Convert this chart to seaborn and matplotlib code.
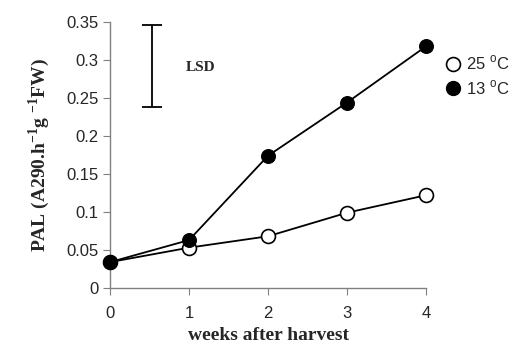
import matplotlib
matplotlib.use("Agg")
import matplotlib.pyplot as plt
from matplotlib.lines import Line2D
import seaborn as sns
import pandas as pd

weeks = [0, 1, 2, 3, 4]
pal_25 = [0.034, 0.053, 0.068, 0.099, 0.122]
pal_13 = [0.034, 0.063, 0.174, 0.244, 0.318]
lsd_x = 0.53
lsd_low = 0.238
lsd_high = 0.346
yticks = [0, 0.05, 0.1, 0.15, 0.2, 0.25, 0.3, 0.35]
ytick_labels = ["0", "0.05", "0.1", "0.15", "0.2", "0.25", "0.3", "0.35"]
series_labels = ["25 $^{\\mathrm{o}}$C", "13 $^{\\mathrm{o}}$C"]

sns.set_style("ticks")
plt.rcParams['font.family'] = ['Liberation Sans', 'DejaVu Sans']
plt.rcParams['mathtext.fontset'] = 'custom'
plt.rcParams['mathtext.rm'] = 'Liberation Sans'
plt.rcParams['mathtext.bf'] = 'Liberation Serif:bold'

fig = plt.figure(figsize=(5.12, 3.44), dpi=100)
ax = fig.add_axes([0.215, 0.163, 0.617, 0.773])

df = pd.DataFrame({"week": weeks * 2,
                   "pal": pal_25 + pal_13,
                   "temp": ["25"] * 5 + ["13"] * 5})

sns.lineplot(data=df[df.temp == "25"], x="week", y="pal", ax=ax, color="black",
             lw=1.3, marker="o", markersize=10, markerfacecolor="white",
             markeredgecolor="black", markeredgewidth=1.2, zorder=3)
sns.lineplot(data=df[df.temp == "13"], x="week", y="pal", ax=ax, color="black",
             lw=1.3, marker="o", markersize=10, markerfacecolor="black",
             markeredgecolor="black", zorder=4)

ax.errorbar([lsd_x], [(lsd_low + lsd_high) / 2], yerr=[(lsd_high - lsd_low) / 2],
            color="black", capsize=7, lw=1.3, capthick=1.3)
ax.text(1.14, 0.29, "LSD", fontsize=11, fontweight="bold",
        family=["Liberation Serif"], ha="center", va="center")

ax.set_xlim(0, 4)
ax.set_ylim(0, 0.35)
ax.set_xticks(weeks)
ax.set_yticks(yticks)
ax.set_yticklabels(ytick_labels)
ax.tick_params(labelsize=12, color="#808080", length=5)
ax.tick_params(axis="x", pad=8)
for s in ["top", "right"]:
    ax.spines[s].set_visible(False)
for s in ["left", "bottom"]:
    ax.spines[s].set_color("#808080")
    ax.spines[s].set_linewidth(1.0)
for line in ax.lines:
    line.set_clip_on(False)

ax.set_xlabel("weeks after harvest", fontsize=14, fontweight="bold",
              family=["Liberation Serif"], labelpad=4)
ax.set_ylabel("PAL (A290.h$^{\\mathbf{-1}}$g $^{\\mathbf{-1}}$FW)", fontsize=14,
              fontweight="bold", family=["Liberation Serif"], labelpad=10)

handles = [Line2D([], [], ls="none", marker="o", markersize=10,
                  markerfacecolor="white", markeredgecolor="black", markeredgewidth=1.2),
           Line2D([], [], ls="none", marker="o", markersize=10,
                  markerfacecolor="black", markeredgecolor="black")]
fig.legend(handles, series_labels, loc="center left", bbox_to_anchor=(0.855, 0.78),
           frameon=False, fontsize=12, handletextpad=0.3, labelspacing=0.35,
           handlelength=1.0, borderaxespad=0)

fig.savefig("out.png", dpi=100)
